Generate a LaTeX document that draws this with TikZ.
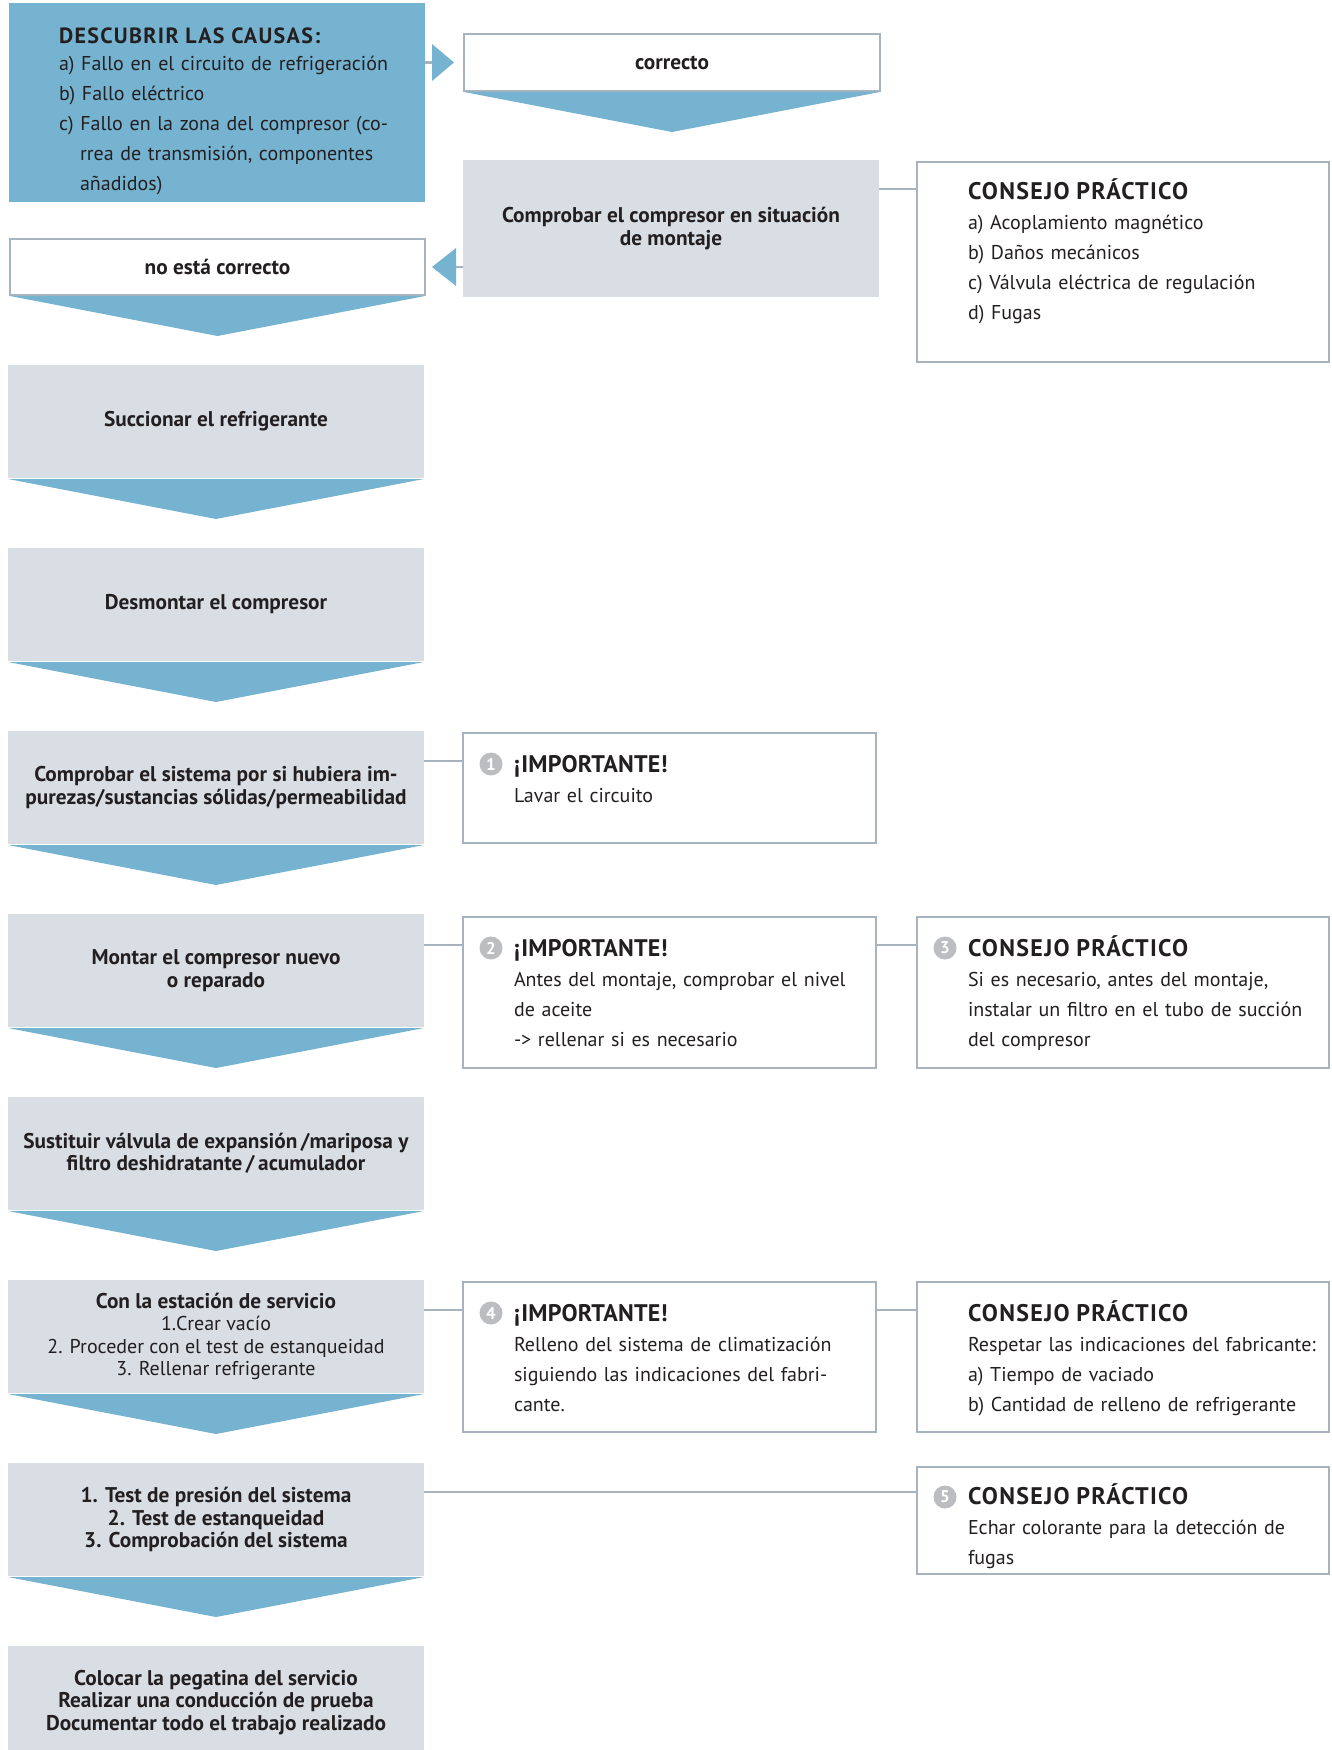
\documentclass[tikz,border=0pt]{standalone}
\usepackage{fontspec}
\setmainfont{PT Sans}
\usetikzlibrary{calc}
\definecolor{cblue}{HTML}{76B3D0}
\definecolor{cgray}{HTML}{D9DEE5}
\definecolor{cline}{HTML}{A7B4BF}
\definecolor{ctext}{HTML}{231F20}
\definecolor{cnum}{HTML}{BBBDC0}
\newcommand\mbfont{\fontsize{21.3}{22.5}\selectfont}
\newcommand\rbody{\fontsize{20}{30}\selectfont}
\newcommand\rhead{\fontsize{24}{30}\selectfont\bfseries}
\newcommand\cphead{{\rhead\addfontfeatures{LetterSpace=5.5}CONSEJO PRÁCTICO}}
\newcommand\imphead{{\rhead\addfontfeatures{LetterSpace=1}¡IMPORTANTE!}}
\newcommand\chev[1]{\fill[cblue] ($(#1.south west)+(0,1)$) -- ($(#1.south east)+(0,1)$) -- ($(#1.south)+(0,41)$) -- cycle;}
\begin{document}
\begin{tikzpicture}[x=1pt,y=-1pt,
  box/.style={anchor=north west, inner sep=0pt, outer sep=0pt, text=ctext},
  mainbox/.style={box, fill=cgray, minimum width=416pt, minimum height=113pt, align=center, font=\mbfont\bfseries},
  wbox/.style={box, fill=white, draw=cline, line width=2.5pt, align=center, font=\mbfont\bfseries},
  rbox/.style={box, draw=cline, line width=2.5pt, minimum width=412pt},
  rtext/.style={anchor=base west, inner sep=0pt, outer sep=0pt, text width=362pt, align=left, font=\rbody, text=ctext},
  num/.style={circle, fill=cnum, text=white, inner sep=0pt, minimum size=23pt, font=\fontsize{17}{17}\selectfont\bfseries},
  conn/.style={draw=cline, line width=2.5pt},
]
\useasboundingbox (0,0) rectangle (1331,1750);

% ---- top area
\node[box, fill=cblue, minimum width=416pt, minimum height=199pt] (causas) at (9,3) {};
\node[rtext, font=\rbody] (causast) at (59,44) {{\bfseries\fontsize{22}{30}\selectfont\addfontfeatures{LetterSpace=6}DESCUBRIR LAS CAUSAS:}\\[-3pt]
a) Fallo en el circuito de refrigeración\\
b) Fallo eléctrico\\
c) Fallo en la zona del compresor (co-\\
\hspace*{21pt}rrea de transmisión, componentes\\
\hspace*{21pt}añadidos)};

\node[wbox, minimum width=416pt, minimum height=57pt] (corr) at (464,34) {correcto};
\node[mainbox, minimum height=137pt] (comp) at (463,160) {Comprobar el compresor en situación\\de montaje};
\node[rbox, minimum height=200pt] (cons0) at (917,162) {};
\node[rtext] (cons0t) at ([xshift=51pt,yshift=-37pt]cons0.north west) {\cphead\\
a) Acoplamiento magnético\\
b) Daños mecánicos\\
c) Válvula eléctrica de regulación\\
d) Fugas};
\node[wbox, minimum width=415pt, minimum height=56pt] (noesta) at (10,239) {no está correcto};

% ---- main column
\node[mainbox] (succ) at (8,365) {Succionar el refrigerante};
\node[mainbox] (desm) at (8,548) {Desmontar el compresor};
\node[mainbox] (sist) at (8,731) {Comprobar el sistema por si hubiera im-\\purezas/sustancias sólidas/permeabilidad};
\node[mainbox] (mont) at (8,914) {Montar el compresor nuevo\\o reparado};
\node[mainbox] (sust) at (8,1097) {Sustituir válvula de expansión\,/mariposa y\\filtro deshidratante\,/\,acumulador};
\node[mainbox, font=\fontsize{20}{22.5}\selectfont] (est) at (8,1280) {{\mbfont\bfseries Con la estación de servicio}\\1.Crear vacío\\2. Proceder con el test de estanqueidad\\3. Rellenar refrigerante};
\node[mainbox] (test) at (8,1463) {1. Test de presión del sistema\\2. Test de estanqueidad\\3. Comprobación del sistema};
\node[mainbox] (colo) at (8,1646) {Colocar la pegatina del servicio\\Realizar una conducción de prueba\\Documentar todo el trabajo realizado};

% ---- side boxes
\node[rbox, minimum width=413pt, minimum height=110pt] (imp1) at (463,733) {};
\node[num] (n1) at ([xshift=28pt,yshift=-31pt]imp1.north west) {1};
\node[rtext] (imp1t) at ([xshift=51pt,yshift=-39pt]imp1.north west) {\imphead\\
Lavar el circuito};

\node[rbox, minimum width=413pt, minimum height=151pt] (imp2) at (463,917) {};
\node[num] (n2) at ([xshift=28pt,yshift=-31pt]imp2.north west) {2};
\node[rtext] (imp2t) at ([xshift=51pt,yshift=-39pt]imp2.north west) {\imphead\\
Antes del montaje, comprobar el nivel\\
de aceite\\
-> rellenar si es necesario};

\node[rbox, minimum height=151pt] (cons3) at (917,917) {};
\node[num] (n3) at ([xshift=28pt,yshift=-31pt]cons3.north west) {3};
\node[rtext] (cons3t) at ([xshift=51pt,yshift=-39pt]cons3.north west) {\cphead\\
Si es necesario, antes del montaje,\\
instalar un filtro en el tubo de succión\\
del compresor};

\node[rbox, minimum width=413pt, minimum height=150pt] (imp4) at (463,1282) {};
\node[num] (n4) at ([xshift=28pt,yshift=-31pt]imp4.north west) {4};
\node[rtext] (imp4t) at ([xshift=51pt,yshift=-39pt]imp4.north west) {\imphead\\
Relleno del sistema de climatización\\
siguiendo las indicaciones del fabri-\\
cante.};

\node[rbox, minimum height=150pt] (cons4) at (917,1282) {};
\node[rtext] (cons4t) at ([xshift=51pt,yshift=-39pt]cons4.north west) {\cphead\\
Respetar las indicaciones del fabricante:\\
a) Tiempo de vaciado\\
b) Cantidad de relleno de refrigerante};

\node[rbox, minimum height=107pt] (cons5) at (917,1467) {};
\node[num] (n5) at ([xshift=28pt,yshift=-30pt]cons5.north west) {5};
\node[rtext] (cons5t) at ([xshift=51pt,yshift=-37pt]cons5.north west) {\cphead\\
Echar colorante para la detección de\\
fugas};

% ---- chevrons
\chev{corr}
\chev{noesta}
\chev{succ}
\chev{desm}
\chev{sist}
\chev{mont}
\chev{sust}
\chev{est}
\chev{test}

% ---- connectors
\draw[conn] (causas.east |- corr.west) -- ++(8,0);
\fill[cblue] ($(corr.west)+(-32,-18.5)$) -- ($(corr.west)+(-10,0)$) -- ($(corr.west)+(-32,18.5)$) -- cycle;
\draw[conn] (comp.west |- noesta.east) -- ++(-8,0);
\fill[cblue] ($(noesta.east)+(31,-19)$) -- ($(noesta.east)+(7,0)$) -- ($(noesta.east)+(31,19)$) -- cycle;

\draw[conn] ($(comp.north east)+(0,29)$) coordinate (k0) -- (k0 -| cons0.west);
\draw[conn] ($(sist.north east)+(0,30)$) coordinate (k1) -- (k1 -| imp1.west);
\draw[conn] ($(mont.north east)+(0,31)$) coordinate (k2) -- (k2 -| imp2.west);
\draw[conn] ($(imp2.north east)+(0,28)$) coordinate (k3) -- (k3 -| cons3.west);
\draw[conn] ($(est.north east)+(0,30)$) coordinate (k4) -- (k4 -| imp4.west);
\draw[conn] ($(imp4.north east)+(0,28)$) coordinate (k5) -- (k5 -| cons4.west);
\draw[conn] ($(test.north east)+(0,29)$) coordinate (k6) -- (k6 -| cons5.west);
\end{tikzpicture}
\end{document}
